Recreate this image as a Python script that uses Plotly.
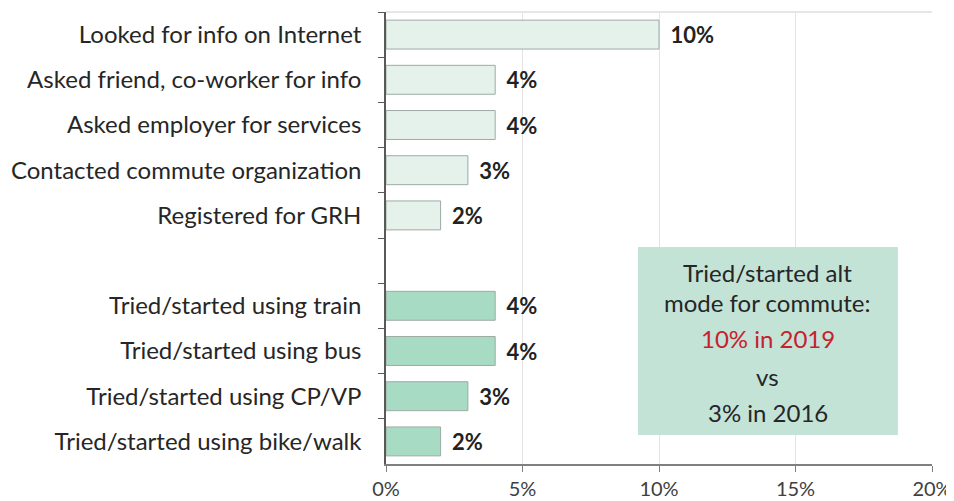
import plotly.graph_objects as go

categories = [
    "Looked for info on Internet",
    "Asked friend, co-worker for info",
    "Asked employer for services",
    "Contacted commute organization",
    "Registered for GRH",
    " ",
    "Tried/started using train",
    "Tried/started using bus",
    "Tried/started using CP/VP",
    "Tried/started using bike/walk",
]
values = [10, 4, 4, 3, 2, None, 4, 4, 3, 2]
bar_colors = ["#E4F2EB"] * 5 + ["rgba(0,0,0,0)"] + ["#A8DBC3"] * 4
x_tickvals = [0, 5, 10, 15, 20]
x_ticktext = ["0%", "5%", "10%", "15%", "20%"]
box_lines = ["Tried/started alt", "mode for commute:", "10% in 2019", "vs", "3% in 2016"]
box_colors = ["#262626", "#262626", "#C8202F", "#262626", "#262626"]

FONT = "Lato"

fig = go.Figure()
fig.add_trace(go.Bar(
    y=categories, x=values, orientation="h",
    marker=dict(color=bar_colors, line=dict(color="#9DABA4", width=1)),
    text=[f"\u00a0\u2009<b>{v}%</b>" if v is not None else "" for v in values],
    textposition="outside", textfont=dict(family=FONT, size=22, color="#222222"),
    cliponaxis=False, width=0.64,
))

fig.update_layout(
    width=946, height=493,
    margin=dict(l=378, r=22, t=4, b=37, autoexpand=False),
    paper_bgcolor="white", plot_bgcolor="white",
    showlegend=False,
    font=dict(family=FONT, color="#262626"),
    xaxis=dict(range=[0, 20], tickvals=x_tickvals, ticktext=x_ticktext,
               showgrid=True, gridcolor="#E3E3E3", gridwidth=1,
               showline=True, linecolor="#7F7F7F", linewidth=1.5,
               ticks="outside", ticklen=6, tickcolor="#7F7F7F", automargin=False,
               tickfont=dict(size=20, color="#404040"), zeroline=False),
    yaxis=dict(categoryorder="array", categoryarray=categories, autorange="reversed",
               tickson="boundaries", ticks="outside", ticklen=6, tickcolor="#595959",
               showline=True, linecolor="#595959", linewidth=1.5, automargin=False,
               ticklabelstandoff=18,
               tickfont=dict(size=24, color="#262626")),
)

fig.add_shape(type="line", xref="paper", yref="paper", x0=0, x1=1, y0=1, y1=1,
              line=dict(color="#E6E6E6", width=2))
fig.add_shape(type="rect", xref="x", yref="paper", x0=9.23, x1=18.75, y0=0.064, y1=0.480,
              fillcolor="#C3E3D6", line=dict(width=0), layer="above")
line_y = [272, 302, 338, 376, 412]
for txt, col, py in zip(box_lines, box_colors, line_y):
    fig.add_annotation(xref="x", yref="paper", x=13.99, y=(464 - py) / 452,
                       text=txt, showarrow=False, xanchor="center", yanchor="middle",
                       font=dict(family=FONT, size=24, color=col))

fig.write_html("out.html")
